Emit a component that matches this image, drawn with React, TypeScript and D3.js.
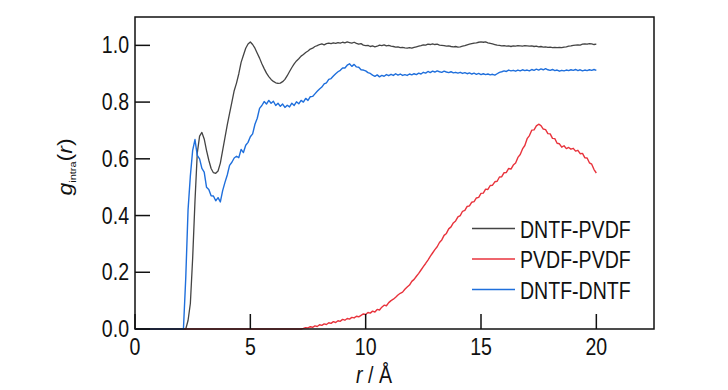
import React from 'react'
import * as d3 from 'd3'

// radial grid, 0.1 Å step from 0 to 20 Å
const R_STEP = 0.1

// g_intra(r), one row per Å
const dntfPvdf = [
  0, 0, 0, 0, 0, 0, 0, 0, 0, 0,
  0, 0, 0, 0, 0, 0, 0, 0, 0, 0,
  0, 0, 0, 0.03, 0.09, 0.25, 0.45, 0.62, 0.68, 0.693,
  0.67, 0.63, 0.595, 0.566, 0.551, 0.549, 0.557, 0.585, 0.63, 0.675,
  0.72, 0.76, 0.8, 0.84, 0.867, 0.9, 0.94, 0.965, 0.99, 1.005,
  1.012, 1.003, 0.99, 0.972, 0.955, 0.935, 0.918, 0.902, 0.89, 0.88,
  0.873, 0.868, 0.866, 0.867, 0.872, 0.88, 0.893, 0.908, 0.922, 0.935,
  0.945, 0.953, 0.962, 0.968, 0.975, 0.98, 0.987, 0.99, 0.996, 0.999,
  1.003, 1.005, 1.002, 1.006, 1.008, 1.006, 1.009, 1.007, 1.01, 1.008,
  1.011, 1.009, 1.012, 1.01, 1.008, 1.011, 1.007, 1.004, 1.006, 1.001,
  0.999, 1.0, 0.996, 0.998, 0.995, 0.997, 1.001, 0.999, 1.002, 0.998,
  1.0, 0.997, 0.996, 0.994, 0.995, 0.992, 0.993, 0.991, 0.99, 0.992,
  0.99, 0.993, 0.995, 0.997, 0.999, 1.002, 1.001, 1.004, 1.003, 1.005,
  1.003, 1.004, 1.001, 1.0, 0.999, 0.997, 0.998, 0.996, 0.995, 0.996,
  0.994, 0.995, 0.997, 0.999, 1.002, 1.004, 1.006, 1.008, 1.009, 1.011,
  1.012, 1.011, 1.012, 1.009, 1.007, 1.005, 1.003, 1.001, 1.0, 0.998,
  0.999, 0.997, 0.998, 0.996, 0.998, 0.997, 0.999, 0.998, 0.997, 0.999,
  0.998, 0.997, 0.998, 0.996, 0.997, 0.995, 0.996, 0.994, 0.995, 0.993,
  0.994, 0.992, 0.993, 0.992, 0.993, 0.992, 0.994, 0.995, 0.997, 0.998,
  1.0, 1.001, 1.002, 1.001, 1.004, 1.005, 1.004, 1.006, 1.005, 1.003,
  1.004,
]

const pvdfPvdf = [
  0, 0, 0, 0, 0, 0, 0, 0, 0, 0,
  0, 0, 0, 0, 0, 0, 0, 0, 0, 0,
  0, 0, 0, 0, 0, 0, 0, 0, 0, 0,
  0, 0, 0, 0, 0, 0, 0, 0, 0, 0,
  0, 0, 0, 0, 0, 0, 0, 0, 0, 0,
  0, 0, 0, 0, 0, 0, 0, 0, 0, 0,
  0, 0, 0, 0, 0, 0, 0, 0, 0, 0,
  0, 0, 0, 0.002, 0.005, 0.004, 0.008, 0.006, 0.011, 0.009,
  0.015, 0.013, 0.018, 0.016, 0.022, 0.02, 0.026, 0.023, 0.029, 0.027,
  0.034, 0.031, 0.037, 0.035, 0.041, 0.039, 0.045, 0.043, 0.048, 0.053,
  0.051, 0.058, 0.056, 0.063, 0.06, 0.069, 0.067, 0.077, 0.084, 0.082,
  0.093, 0.1, 0.105, 0.112, 0.12, 0.126, 0.13, 0.14, 0.148, 0.155,
  0.168, 0.175, 0.186, 0.196, 0.208, 0.22, 0.231, 0.243, 0.256, 0.268,
  0.28, 0.29, 0.305, 0.314, 0.33, 0.337, 0.353, 0.36, 0.374, 0.381,
  0.395, 0.4, 0.415, 0.418, 0.432, 0.434, 0.447, 0.449, 0.462, 0.464,
  0.478, 0.479, 0.493, 0.492, 0.506, 0.507, 0.519, 0.521, 0.536, 0.537,
  0.551, 0.552, 0.566, 0.564, 0.578, 0.585, 0.605, 0.615, 0.635, 0.647,
  0.671, 0.682, 0.701, 0.702, 0.716, 0.722, 0.717, 0.705, 0.703, 0.689,
  0.688, 0.672, 0.671, 0.655, 0.653, 0.641, 0.646, 0.636, 0.64, 0.634,
  0.637, 0.627, 0.63, 0.618, 0.619, 0.604, 0.603, 0.586, 0.581, 0.562,
  0.55,
]

const dntfDntf = [
  0, 0, 0, 0, 0, 0, 0, 0, 0, 0,
  0, 0, 0, 0, 0, 0, 0, 0, 0, 0,
  0, 0, 0.18, 0.42, 0.54, 0.63, 0.668, 0.612, 0.6, 0.566,
  0.553, 0.5, 0.492, 0.47, 0.469, 0.452, 0.463, 0.448, 0.488, 0.517,
  0.543, 0.577, 0.588, 0.603, 0.609, 0.604, 0.633, 0.622, 0.648, 0.658,
  0.678, 0.688, 0.722, 0.743, 0.778, 0.788, 0.802, 0.793, 0.806, 0.796,
  0.803, 0.788, 0.796, 0.785, 0.793, 0.781, 0.789, 0.783, 0.796, 0.788,
  0.801, 0.794, 0.806, 0.8, 0.813, 0.806, 0.819, 0.82, 0.829, 0.838,
  0.846, 0.853, 0.864, 0.868, 0.88, 0.883, 0.892, 0.9, 0.907, 0.912,
  0.92, 0.92, 0.93, 0.935, 0.926, 0.933, 0.924, 0.923, 0.914, 0.913,
  0.91, 0.904, 0.901, 0.895, 0.891, 0.896, 0.889, 0.894, 0.891, 0.897,
  0.893, 0.898, 0.894, 0.9, 0.895, 0.899, 0.894, 0.897, 0.894, 0.899,
  0.896, 0.9, 0.897, 0.902, 0.899, 0.905, 0.902, 0.908, 0.904, 0.909,
  0.906, 0.91, 0.907, 0.905, 0.909, 0.906, 0.904, 0.907, 0.903, 0.905,
  0.902, 0.905, 0.901, 0.904, 0.9, 0.903, 0.899, 0.902, 0.898, 0.901,
  0.897, 0.9, 0.897, 0.899, 0.896, 0.898, 0.895, 0.9, 0.905, 0.907,
  0.91, 0.908, 0.913, 0.91, 0.912, 0.909, 0.913, 0.91, 0.914, 0.911,
  0.913, 0.91, 0.915, 0.912, 0.916, 0.913, 0.917, 0.914, 0.918, 0.914,
  0.912, 0.915, 0.911, 0.913, 0.909, 0.912, 0.91, 0.913, 0.911, 0.914,
  0.912, 0.915, 0.911, 0.914, 0.91, 0.913, 0.911, 0.914, 0.912, 0.915,
  0.912,
]

const xTicks = [0, 5, 10, 15, 20]
const yTicks = [0, 0.2, 0.4, 0.6, 0.8, 1.0]

// drawing order matters: blue on top along the baseline
const series = [
  { name: 'DNTF-PVDF', values: dntfPvdf, color: '#444444', width: 1.3 },
  { name: 'PVDF-PVDF', values: pvdfPvdf, color: '#e8333c', width: 1.4 },
  { name: 'DNTF-DNTF', values: dntfDntf, color: '#1f6fdc', width: 1.4 },
]

const W = 728
const H = 390
const m = { left: 135, right: 654, top: 17, bottom: 329 }
const FONT = 'Arial, "Liberation Sans", Helvetica, sans-serif'
const SQUEEZE = 0.85 // the figure's lettering is horizontally narrowed

export default function App() {
  const x = d3.scaleLinear().domain([0, 22.5]).range([m.left, m.right])
  const y = d3.scaleLinear().domain([0, 1.1]).range([m.bottom, m.top])

  const line = d3
    .line<number>()
    .x((d, i) => x(i * R_STEP))
    .y(d => y(d))

  const legendOrder = ['DNTF-PVDF', 'PVDF-PVDF', 'DNTF-DNTF']

  return (
    <svg
      width={W}
      height={H}
      style={{ position: 'absolute', left: 0, top: 0, background: '#fff' }}
      fontFamily={FONT}
    >
      <rect x={0} y={0} width={W} height={H} fill="#fff" />

      {series.map(s => (
        <path
          key={s.name}
          d={line(s.values) || ''}
          fill="none"
          stroke={s.color}
          strokeWidth={s.width}
          strokeLinejoin="round"
        />
      ))}

      {/* frame */}
      <rect
        x={m.left}
        y={m.top}
        width={m.right - m.left}
        height={m.bottom - m.top}
        fill="none"
        stroke="#111"
        strokeWidth={1.5}
      />

      {/* y ticks, pointing inward */}
      {yTicks.map(t => (
        <g key={'y' + t}>
          <line x1={m.left} x2={m.left + 15} y1={y(t)} y2={y(t)} stroke="#111" strokeWidth={1.5} />
          <text
            transform={`translate(${m.left - 6},${y(t) + 8}) scale(${SQUEEZE},1)`}
            textAnchor="end"
            fontSize={23}
            fill="#111"
          >
            {t.toFixed(1)}
          </text>
        </g>
      ))}

      {/* x ticks, pointing inward */}
      {xTicks.map(t => (
        <g key={'x' + t}>
          <line x1={x(t)} x2={x(t)} y1={m.bottom} y2={m.bottom - 15} stroke="#111" strokeWidth={1.5} />
          <text
            transform={`translate(${x(t)},${m.bottom + 26}) scale(${SQUEEZE},1)`}
            textAnchor="middle"
            fontSize={23}
            fill="#111"
          >
            {t}
          </text>
        </g>
      ))}

      {/* axis titles */}
      <text
        transform={`translate(374,383) scale(${SQUEEZE},1)`}
        textAnchor="middle"
        fontSize={23}
        fill="#111"
      >
        <tspan fontStyle="italic">r</tspan>
        <tspan> / Å</tspan>
      </text>
      <text
        transform={`translate(72,167) scale(${SQUEEZE},1) rotate(-90)`}
        textAnchor="middle"
        fontSize={23}
        fill="#111"
      >
        <tspan fontStyle="italic">g</tspan>
        <tspan fontSize={11} dy={5}>intra</tspan>
        <tspan dy={-5}>(</tspan>
        <tspan fontStyle="italic">r</tspan>
        <tspan>)</tspan>
      </text>

      {/* legend */}
      {legendOrder.map((name, i) => {
        const s = series.find(d => d.name === name)!
        const ly = 228.5 + i * 30.5
        return (
          <g key={'lg' + name}>
            <line x1={472} x2={515} y1={ly} y2={ly} stroke={s.color} strokeWidth={1.4} />
            <text
              transform={`translate(520,${ly + 9}) scale(${SQUEEZE},1)`}
              fontSize={23}
              fill="#111"
            >
              {name}
            </text>
          </g>
        )
      })}
    </svg>
  )
}
